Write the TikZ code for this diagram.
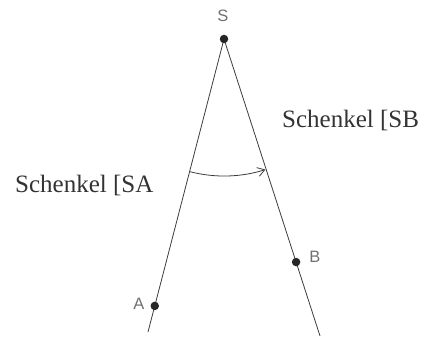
\documentclass[tikz,border=0pt]{standalone}
\usepackage{fontspec}
\setmainfont{Liberation Serif}
\newfontfamily\ptfont{Liberation Sans}
\usetikzlibrary{arrows.meta,calc}
\definecolor{leg}{HTML}{3C3C3C}
\definecolor{ptlab}{HTML}{707070}
\tikzset{
  legline/.style={draw=leg, line width=0.8pt},
  ptdot/.style={circle, fill=black!85, inner sep=0pt, minimum size=8.5pt},
  ptlabel/.style={text=ptlab, font=\ptfont\fontsize{16.5}{16.5}\selectfont, inner sep=0pt},
  schenkel/.style={text=black!80, font=\fontsize{25}{30}\selectfont, inner sep=0pt, anchor=base west}
}
\begin{document}
\begin{tikzpicture}[x=1pt,y=1pt]
\useasboundingbox (0,0) rectangle (437,338);
\coordinate (S) at (224,299);
\coordinate (L) at (148,6);
\coordinate (R) at (320,2);
\draw[legline] (S) -- (L);
\draw[legline] (S) -- (R);
\node[ptdot] (Sd) at (S) {};
\node[ptdot] (Ad) at ($(S)!0.911!(L)$) {};
\node[ptdot] (Bd) at ($(S)!0.751!(R)$) {};
\node[ptlabel] (Sl) at (223,322) {S};
\node[ptlabel] (Al) at (139,34) {A};
\node[ptlabel] (Bl) at (315,81) {B};
\coordinate (arcstart) at ($(S)+(-104.5:137)$);
\draw[legline, -{Straight Barb[length=7pt,width=9pt]}] (arcstart) arc[start angle=-104.5, end angle=-72.4, radius=137];
\node[schenkel] (SB) at (282,210) {Schenkel [SB};
\node[schenkel] (SA) at (15,145) {Schenkel [SA};
\end{tikzpicture}
\end{document}
